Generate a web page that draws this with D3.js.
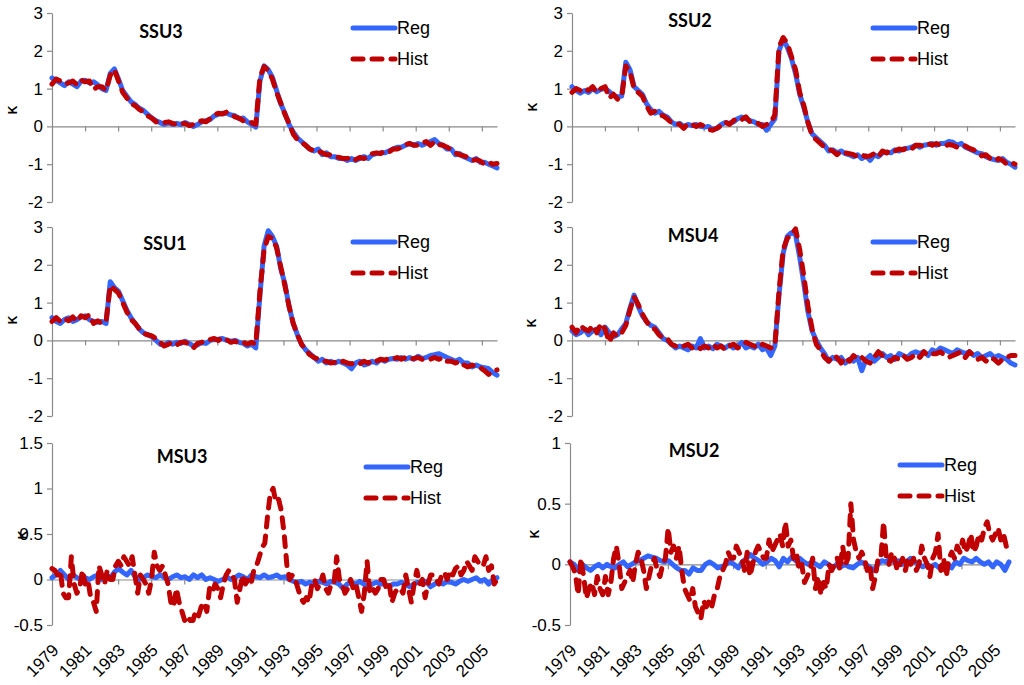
<!DOCTYPE html>
<html>
<head>
<meta charset="utf-8">
<script src="https://cdn.jsdelivr.net/npm/d3@7"></script>
<style>
  body { margin: 0; background: #fff; }
  svg text { font-family: 'Liberation Sans', Arial, sans-serif; fill: #000; }
  .title { font-family: Lato, 'Open Sans', sans-serif; font-weight: bold; font-size: 18px; }
  .tick text { font-size: 17px; }
  .years .tick text { font-size: 17px; }
  .legend text { font-size: 18px; }
  .klab { font-size: 12px; font-weight: bold; }
  .domain, .tick line { stroke: #8a8a8a; stroke-width: 1.2; }
</style>
</head>
<body>
<svg width="1024" height="685"></svg>
<script>
// monthly record 1979-01 .. 2005-12 (quarterly / bimonthly)
const startYear = 1979;
const endYear = 2005 + 11 / 12;
const yearTicks = [1979, 1981, 1983, 1985, 1987, 1989, 1991, 1993, 1995, 1997, 1999, 2001, 2003, 2005];
const yearLabels = ['1979', '1981', '1983', '1985', '1987', '1989', '1991', '1993', '1995', '1997', '1999', '2001', '2003', '2005'];
const seriesNames = ['Reg', 'Hist'];

//* SSU3 (quarterly)
const ssu3Reg = [
  1.28, 1.22, 1.15, 1.08,  1.18, 1.12, 1.05, 1.2,  1.22, 1.15, 1.18, 1.1,  1.0, 0.95, 1.4, 1.52,
  1.25, 0.95, 0.8, 0.65,  0.58, 0.48, 0.42, 0.32,  0.22, 0.15, 0.1, 0.05,  0.1, 0.05, 0.08, 0.05,
  0.1, 0.05, 0.0, 0.05,  0.12, 0.15, 0.18, 0.28,  0.32, 0.35, 0.35, 0.3,  0.28, 0.2, 0.22, 0.12,
  0.05, -0.02, 1.2, 1.6,  1.5, 1.3, 0.95, 0.6,  0.35, 0.05, -0.15, -0.3,  -0.4, -0.5, -0.6, -0.65,
  -0.6, -0.75, -0.7, -0.8,  -0.8, -0.85, -0.85, -0.9,  -0.85, -0.9, -0.85, -0.8,  -0.85, -0.75, -0.72, -0.7,
  -0.7, -0.65, -0.6, -0.55,  -0.55, -0.5, -0.45, -0.5,  -0.45, -0.5, -0.45, -0.4,  -0.35, -0.45, -0.5, -0.6,
  -0.6, -0.75, -0.72, -0.8,  -0.85, -0.9, -0.85, -0.95,  -0.95, -1.0, -1.05, -1.1
];
const ssu3Hist = [
  1.12, 1.25, 1.2, 1.12,  1.15, 1.2, 1.1, 1.22,  1.18, 1.2, 0.98, 1.05,  1.05, 0.95, 1.35, 1.5,
  1.2, 0.9, 0.75, 0.6,  0.55, 0.45, 0.38, 0.28,  0.22, 0.12, 0.15, 0.1,  0.12, 0.08, 0.05, 0.08,
  0.08, 0.02, 0.05, 0.1,  0.15, 0.12, 0.2, 0.3,  0.35, 0.33, 0.38, 0.32,  0.25, 0.22, 0.15, 0.15,
  0.1, 0.05, 1.3, 1.58,  1.48, 1.25, 0.9, 0.62,  0.32, 0.08, -0.2, -0.35,  -0.42, -0.5, -0.6, -0.65,
  -0.65, -0.7, -0.75, -0.75,  -0.8, -0.82, -0.85, -0.85,  -0.8, -0.88, -0.82, -0.85,  -0.8, -0.72, -0.7, -0.72,
  -0.65, -0.68, -0.6, -0.6,  -0.55, -0.48, -0.45, -0.5,  -0.5, -0.45, -0.4, -0.5,  -0.4, -0.48, -0.5, -0.55,
  -0.62, -0.7, -0.75, -0.78,  -0.82, -0.9, -0.88, -0.92,  -1.0, -0.95, -1.0, -0.98
];

//* SSU2 (quarterly)
const ssu2Reg = [
  1.05, 0.95, 0.88, 0.95,  0.9, 1.0, 0.92, 0.98,  1.0, 0.92, 0.82, 0.78,  0.8, 1.7, 1.5, 1.05,
  0.95, 0.85, 0.6, 0.45,  0.35, 0.4, 0.3, 0.25,  0.12, 0.05, 0.08, 0.0,  0.05, 0.02, 0.05, 0.0,
  -0.02, 0.0, -0.08, -0.05,  0.05, 0.1, 0.08, 0.12,  0.2, 0.25, 0.2, 0.15,  0.12, 0.05, 0.05, -0.1,
  0.05, 0.2, 2.0, 2.3,  2.1, 1.8, 1.4, 0.85,  0.5, 0.1, -0.2, -0.3,  -0.4, -0.5, -0.65, -0.62,
  -0.7, -0.65, -0.72, -0.75,  -0.8, -0.75, -0.85, -0.78,  -0.9, -0.75, -0.8, -0.7,  -0.68, -0.7, -0.62, -0.65,
  -0.6, -0.58, -0.55, -0.5,  -0.55, -0.5, -0.48, -0.45,  -0.5, -0.45, -0.45, -0.4,  -0.42, -0.5, -0.45, -0.55,
  -0.6, -0.65, -0.7, -0.72,  -0.8, -0.85, -0.88, -0.9,  -0.85, -0.95, -1.0, -1.08
];
const ssu2Hist = [
  0.9, 1.0, 0.95, 1.02,  0.95, 1.05, 0.9, 1.0,  1.05, 0.75, 0.85, 0.72,  0.78, 1.6, 1.45, 1.0,
  0.9, 0.8, 0.55, 0.35,  0.4, 0.3, 0.28, 0.2,  0.1, 0.08, 0.05, -0.05,  0.08, 0.05, 0.0, 0.05,
  0.0, -0.08, -0.1, -0.05,  0.02, 0.12, 0.05, 0.15,  0.22, 0.18, 0.25, 0.12,  0.1, 0.08, 0.0, 0.05,
  0.1, 0.3, 2.1, 2.35,  2.2, 1.85, 1.5, 0.9,  0.55, 0.1, -0.25, -0.35,  -0.45, -0.55, -0.6, -0.65,
  -0.75, -0.65, -0.7, -0.72,  -0.75, -0.8, -0.75, -0.8,  -0.78, -0.72, -0.8, -0.65,  -0.7, -0.62, -0.65, -0.6,
  -0.62, -0.55, -0.6, -0.5,  -0.5, -0.52, -0.45, -0.5,  -0.45, -0.5, -0.52, -0.48,  -0.5, -0.55, -0.5, -0.52,
  -0.58, -0.62, -0.7, -0.78,  -0.75, -0.85, -0.92, -0.85,  -0.9, -1.0, -0.95, -1.0
];

//* SSU1 (quarterly)
const ssu1Reg = [
  0.6, 0.5, 0.45, 0.55,  0.6, 0.5, 0.55, 0.62,  0.65, 0.55, 0.5, 0.48,  0.5, 0.45, 1.55, 1.4,
  1.3, 1.05, 0.8, 0.6,  0.45, 0.3, 0.2, 0.15,  0.1, 0.0, -0.1, -0.12,  -0.05, -0.1, -0.05, -0.08,
  -0.02, -0.08, -0.15, -0.12,  -0.05, -0.08, 0.0, 0.02,  0.03, 0.05, 0.0, -0.02,  0.0, -0.05, -0.08, -0.15,
  -0.1, -0.2, 1.2, 2.5,  2.9, 2.75, 2.5, 1.9,  1.5, 0.9, 0.45, 0.15,  -0.1, -0.25, -0.35, -0.45,
  -0.55, -0.5, -0.6, -0.55,  -0.6, -0.55, -0.6, -0.65,  -0.75, -0.6, -0.55, -0.65,  -0.62, -0.55, -0.6, -0.5,
  -0.55, -0.5, -0.48, -0.5,  -0.45, -0.5, -0.45, -0.5,  -0.42, -0.48, -0.45, -0.4,  -0.38, -0.35, -0.4, -0.45,
  -0.5, -0.55, -0.5, -0.6,  -0.6, -0.7, -0.65, -0.7,  -0.72, -0.75, -0.85, -0.92
];
const ssu1Hist = [
  0.5, 0.6, 0.5, 0.58,  0.52, 0.62, 0.5, 0.65,  0.6, 0.68, 0.45, 0.52,  0.45, 0.5, 1.45, 1.35,
  1.25, 1.0, 0.75, 0.55,  0.45, 0.3, 0.18, 0.15,  0.12, 0.05, -0.05, -0.15,  -0.1, -0.05, -0.12, -0.05,
  -0.05, -0.1, -0.2, -0.08,  -0.05, 0.0, 0.02, 0.05,  0.0, 0.08, 0.02, -0.05,  -0.02, -0.08, -0.05, -0.1,
  -0.05, -0.1, 1.3, 2.4,  2.75, 2.7, 2.45, 1.95,  1.45, 0.9, 0.45, 0.15,  -0.1, -0.25, -0.38, -0.45,
  -0.5, -0.55, -0.55, -0.6,  -0.58, -0.62, -0.55, -0.6,  -0.62, -0.58, -0.62, -0.55,  -0.6, -0.52, -0.55, -0.5,
  -0.52, -0.48, -0.5, -0.45,  -0.5, -0.45, -0.5, -0.48,  -0.45, -0.5, -0.48, -0.5,  -0.45, -0.5, -0.45, -0.55,
  -0.55, -0.6, -0.55, -0.65,  -0.7, -0.65, -0.7, -0.72,  -0.8, -0.9, -0.8, -0.78
];

//* MSU4 (quarterly)
const msu4Reg = [
  0.25, 0.15, 0.2, 0.3,  0.15, 0.25, 0.3, 0.15,  0.35, 0.2, 0.1, 0.15,  0.3, 0.45, 0.85, 1.2,
  0.9, 0.65, 0.5, 0.4,  0.35, 0.2, 0.05, 0.0,  -0.1, -0.2, -0.15, -0.2,  -0.25, -0.15, -0.2, 0.05,
  -0.2, -0.15, -0.22, -0.1,  -0.15, -0.2, -0.12, -0.2,  -0.15, -0.05, -0.2, -0.15,  -0.2, -0.1, -0.25, -0.2,
  -0.4, -0.15, 1.2, 2.3,  2.75, 2.85, 2.8, 2.2,  1.5, 0.75, 0.25, 0.0,  -0.2, -0.35, -0.55, -0.45,
  -0.5, -0.45, -0.6, -0.5,  -0.55, -0.45, -0.8, -0.5,  -0.4, -0.55, -0.45, -0.35,  -0.45, -0.4, -0.5, -0.35,
  -0.4, -0.45, -0.35, -0.3,  -0.35, -0.3, -0.4, -0.25,  -0.3, -0.2, -0.25, -0.3,  -0.35, -0.25, -0.3, -0.35,
  -0.3, -0.4, -0.35, -0.45,  -0.4, -0.35, -0.45, -0.4,  -0.45, -0.5, -0.6, -0.65
];
const msu4Hist = [
  0.35, 0.2, 0.4, 0.3,  0.25, 0.4, 0.2, 0.45,  0.3, -0.05, 0.2, 0.1,  0.2, 0.4, 0.8, 1.15,
  0.95, 0.7, 0.5, 0.35,  0.3, 0.15, 0.05, 0.05,  -0.1, -0.15, -0.2, -0.15,  -0.1, -0.2, -0.15, -0.22,
  -0.15, -0.2, -0.1, -0.2,  -0.15, -0.25, -0.15, -0.1,  -0.2, -0.15, -0.05, -0.1,  -0.15, -0.2, -0.1, -0.15,
  -0.2, -0.15, 1.3, 2.4,  2.7, 2.8, 2.95, 2.4,  1.7, 0.9, 0.3, -0.1,  -0.25, -0.45, -0.55, -0.4,
  -0.45, -0.6, -0.45, -0.55,  -0.4, -0.5, -0.45, -0.55,  -0.6, -0.45, -0.3, -0.4,  -0.5, -0.55, -0.45, -0.5,
  -0.4, -0.5, -0.45, -0.35,  -0.45, -0.3, -0.4, -0.35,  -0.35, -0.3, -0.4, -0.45,  -0.4, -0.35, -0.3, -0.45,
  -0.3, -0.4, -0.5, -0.45,  -0.55, -0.45, -0.5, -0.6,  -0.5, -0.45, -0.4, -0.4
];

//* MSU3 (Reg quarterly, Hist bimonthly)
const msu3Reg = [
  0.02, 0.05, 0.1, 0.05,  0.0, 0.05, 0.02, 0.0,  0.02, 0.0, 0.03, 0.05,  0.0, 0.05, 0.02, 0.08,
  0.12, 0.08, 0.05, 0.1,  0.03, 0.0, 0.02, 0.05,  0.03, 0.02, 0.05, 0.02,  0.0, 0.03, 0.05, 0.02,
  0.03, 0.0, 0.05, 0.02,  0.05, 0.0, 0.02, 0.0,  -0.02, 0.0, 0.03, 0.0,  0.02, 0.05, 0.03, 0.0,
  0.05, 0.03, 0.02, 0.05,  0.02, 0.03, 0.05, 0.02,  0.03, 0.0, -0.02, -0.03,  -0.02, -0.05, -0.03, -0.05,
  -0.02, -0.03, -0.05, -0.02,  -0.03, -0.05, -0.1, -0.05,  -0.03, -0.05, -0.02, -0.05,  -0.08, -0.05, -0.03, -0.05,
  -0.05, -0.08, -0.05, -0.05,  -0.03, -0.05, -0.08, -0.05,  -0.03, -0.05, -0.02, -0.08,  -0.05, -0.03, -0.05, -0.02,
  -0.03, -0.05, -0.02, 0.0,  -0.02, 0.0, 0.02, -0.02,  0.0, -0.05, 0.0, 0.02
];
const msu3Hist = [
  0.12, 0.1, 0.05, 0.1, -0.15, -0.2,      -0.2, 0.25, -0.05, -0.15, -0.1, 0.1,
  -0.05, 0.0, -0.2, -0.25, -0.35, 0.15,   0.05, -0.05, 0.1, 0.0, 0.0, 0.15,
  0.2, 0.15, 0.25, 0.2, 0.15, 0.25,       0.05, -0.15, 0.05, 0.0, -0.05, -0.15,
  0.0, 0.3, 0.15, 0.1, 0.15, 0.05,        -0.05, -0.25, -0.3, -0.1, -0.25, -0.35,
  -0.45, -0.4, -0.45, -0.45, -0.35, -0.4, -0.3, -0.25, -0.35, -0.1, -0.15, -0.05,
  -0.1, -0.2, -0.05, 0.05, 0.1, 0.05,     0.0, -0.25, -0.1, 0.05, -0.05, 0.0,
  -0.05, 0.1, 0.15, 0.25, 0.35, 0.4,      0.7, 0.95, 1.0, 0.85, 0.88, 0.75,
  0.5, 0.15, 0.0, 0.05, 0.0, -0.1,        -0.2, -0.25, -0.2, -0.25, -0.05, 0.0,
  -0.1, -0.05, 0.05, -0.1, -0.15, -0.05,  -0.05, 0.25, 0.0, -0.05, -0.15, -0.1,
  0.0, -0.1, -0.05, -0.2, -0.35, -0.15,   0.2, -0.15, -0.1, -0.15, -0.1, 0.0,
  0.0, -0.1, -0.05, -0.25, -0.15, -0.1,   -0.1, -0.15, 0.05, -0.1, -0.25, -0.05,
  0.1, -0.05, 0.0, -0.2, -0.05, 0.05,     0.05, 0.0, -0.05, 0.05, 0.08, 0.0,
  0.1, 0.05, 0.12, 0.15, 0.05, 0.1,       0.2, 0.15, 0.1, 0.25, 0.2, 0.15,
  0.15, 0.25, 0.1, 0.15, -0.05, 0.0
];

//* MSU2 (Reg quarterly, Hist bimonthly)
const msu2Reg = [
  0.02, 0.0, -0.05, 0.0,  -0.03, -0.05, -0.02, 0.0,  -0.03, 0.0, -0.02, -0.03,  0.0, 0.02, -0.02, 0.0,
  0.02, 0.03, 0.05, 0.07,  0.06, 0.05, 0.03, 0.02,  0.03, 0.0, -0.03, -0.05,  -0.05, -0.08, -0.03, -0.05,
  -0.05, 0.0, 0.02, 0.0,  -0.03, -0.02, 0.0, 0.02,  0.0, -0.03, 0.02, 0.05,  0.08, 0.05, 0.03, 0.0,
  0.02, 0.05, 0.03, -0.02,  0.05, 0.02, 0.06, 0.03,  0.05, 0.02, 0.0, 0.02,  0.0, -0.02, 0.02, 0.0,
  -0.03, 0.0, -0.02, 0.0,  -0.02, -0.03, 0.0, 0.02,  0.0, -0.02, -0.05, 0.0,  0.03, 0.02, 0.05, 0.02,
  0.03, 0.0, 0.02, 0.05,  0.02, 0.0, -0.02, 0.0,  -0.02, 0.0, -0.03, -0.02,  0.0, -0.03, 0.02, 0.0,
  0.05, 0.03, 0.02, 0.05,  0.02, 0.0, 0.02, -0.02,  0.02, 0.0, -0.05, 0.02
];
const msu2Hist = [
  0.02, -0.02, -0.08, -0.25, 0.05, -0.1,  -0.28, -0.2, -0.15, -0.25, -0.1, -0.2,
  -0.25, -0.1, -0.25, -0.15, 0.05, 0.15,  0.0, -0.2, -0.15, -0.1, -0.05, -0.15,
  0.0, 0.1, 0.05, -0.05, -0.2, -0.1,      0.0, 0.05, -0.05, -0.1, 0.0, 0.05,
  0.3, 0.1, 0.15, 0.05, 0.15, -0.05,      -0.2, -0.25, -0.3, -0.2, -0.35, -0.4,
  -0.45, -0.3, -0.35, -0.3, -0.35, -0.25, -0.2, -0.1, -0.05, 0.0, 0.1, 0.05,
  0.05, 0.15, 0.1, 0.05, -0.05, 0.1,      -0.1, 0.0, 0.1, 0.15, 0.1, 0.05,
  0.05, 0.2, 0.1, 0.15, 0.2, 0.25,        0.15, 0.35, 0.15, 0.2, 0.05, 0.1,
  -0.05, 0.0, -0.15, -0.1, -0.05, 0.05,   -0.2, -0.1, -0.25, -0.15, -0.2, 0.0,
  -0.05, 0.0, 0.05, -0.05, 0.15, 0.0,     0.05, 0.5, 0.2, 0.1, 0.05, 0.1,
  0.05, -0.05, 0.0, -0.2, -0.1, 0.05,     0.05, 0.35, 0.05, 0.0, 0.1, 0.05,
  -0.05, 0.0, 0.05, -0.05, 0.05, 0.0,     0.05, -0.05, 0.0, 0.15, 0.05, 0.0,
  -0.1, 0.05, 0.1, 0.25, -0.05, 0.05,     -0.1, 0.05, 0.1, 0.05, 0.15, 0.1,
  0.2, 0.1, 0.15, 0.25, 0.1, 0.15,        0.25, 0.2, 0.3, 0.35, 0.25, 0.2,
  0.25, 0.3, 0.2, 0.25, 0.15, 0.1
];

const svg = d3.select('svg');
const colors = { Reg: '#3366ff', Hist: '#c00000' };

// panel layout (pixel boxes of each plot area)
const panels = [
  { title: 'SSU3', reg: ssu3Reg, hist: ssu3Hist, yDomain: [-2, 3], yTicks: [-2, -1, 0, 1, 2, 3],
    box: [52, 497, 13, 202], titleAt: [161, 38], kAt: [13, 110], legendAt: [353, 28], years: false },
  { title: 'SSU2', reg: ssu2Reg, hist: ssu2Hist, yDomain: [-2, 3], yTicks: [-2, -1, 0, 1, 2, 3],
    box: [572, 1015, 13, 202], titleAt: [690, 27], kAt: [533, 107], legendAt: [873, 28], years: false },
  { title: 'SSU1', reg: ssu1Reg, hist: ssu1Hist, yDomain: [-2, 3], yTicks: [-2, -1, 0, 1, 2, 3],
    box: [52, 497, 227, 416], titleAt: [165, 250], kAt: [13, 320], legendAt: [353, 242], years: false },
  { title: 'MSU4', reg: msu4Reg, hist: msu4Hist, yDomain: [-2, 3], yTicks: [-2, -1, 0, 1, 2, 3],
    box: [572, 1015, 227, 416], titleAt: [693, 242], kAt: [532, 323], legendAt: [873, 242], years: false },
  { title: 'MSU3', reg: msu3Reg, hist: msu3Hist, yDomain: [-0.5, 1.5], yTicks: [-0.5, 0, 0.5, 1, 1.5],
    box: [52, 497, 443, 625], titleAt: [182, 463], kAt: [23, 535], legendAt: [366, 467], years: true },
  { title: 'MSU2', reg: msu2Reg, hist: msu2Hist, yDomain: [-0.5, 1], yTicks: [-0.5, 0, 0.5, 1],
    box: [570, 1009, 443, 625], titleAt: [694, 457], kAt: [535, 534], legendAt: [900, 465], years: true }
];

const render = p => {
  const [x0, x1, y0, y1] = p.box;
  const xScale = d3.scaleLinear().domain([startYear, endYear]).range([x0, x1]);
  const yScale = d3.scaleLinear().domain(p.yDomain).range([y1, y0]);
  const g = svg.append('g');

  //* y axis
  g.append('g')
    .attr('transform', `translate(${x0},0)`)
    .call(d3.axisLeft(yScale).tickValues(p.yTicks).tickSize(5).tickSizeOuter(0)
      .tickPadding(4).tickFormat(d => String(d)));

  //* x axis along zero line
  g.append('g')
    .attr('transform', `translate(0,${yScale(0)})`)
    .call(d3.axisBottom(xScale).tickValues(yearTicks.slice(1)).tickSize(5).tickSizeOuter(0).tickFormat(''));

  //* year labels under the bottom row
  if (p.years) {
    const yl = g.append('g')
      .attr('class', 'years')
      .attr('transform', `translate(0,${y1})`)
      .call(d3.axisBottom(xScale).tickValues(yearTicks).tickSize(0).tickFormat((d, i) => yearLabels[i]));
    yl.select('.domain').remove();
    yl.selectAll('text')
      .attr('x', 0).attr('y', 0).attr('dy', '0.35em')
      .attr('text-anchor', 'end')
      .attr('transform', 'translate(3,22) rotate(-45)');
  }

  //* lines
  const line = arr => d3.line()
    .x((d, i) => xScale(startYear + i * (endYear - startYear) / (arr.length - 1)))
    .y(d => yScale(d))(arr);

  g.append('path')
    .attr('d', line(p.reg))
    .attr('fill', 'none')
    .attr('stroke', colors.Reg)
    .attr('stroke-width', 5)
    .attr('stroke-linejoin', 'round')
    .attr('stroke-linecap', 'round');

  g.append('path')
    .attr('d', line(p.hist))
    .attr('fill', 'none')
    .attr('stroke', colors.Hist)
    .attr('stroke-width', 5)
    .attr('stroke-linejoin', 'round')
    .attr('stroke-linecap', 'round')
    .attr('stroke-dasharray', '10,9');

  //* title and K label
  g.append('text')
    .attr('class', 'title')
    .attr('x', p.titleAt[0]).attr('y', p.titleAt[1])
    .attr('text-anchor', 'middle')
    .text(p.title);

  g.append('text')
    .attr('class', 'klab')
    .attr('transform', `translate(${p.kAt[0]},${p.kAt[1]}) rotate(-90)`)
    .attr('text-anchor', 'middle')
    .attr('dy', '0.35em')
    .text('K');

  //* legend
  const lg = g.append('g').attr('class', 'legend')
    .attr('transform', `translate(${p.legendAt[0]},${p.legendAt[1]})`);
  seriesNames.forEach((name, i) => {
    lg.append('line')
      .attr('x1', 0).attr('x2', 42)
      .attr('y1', i * 31).attr('y2', i * 31)
      .attr('stroke', colors[name])
      .attr('stroke-width', 5)
      .attr('stroke-linecap', 'round')
      .attr('stroke-dasharray', name === 'Hist' ? '10,9' : null);
    lg.append('text')
      .attr('x', 44).attr('y', i * 31)
      .attr('dy', '0.35em')
      .text(name);
  });
};

panels.forEach(render);
</script>
</body>
</html>
